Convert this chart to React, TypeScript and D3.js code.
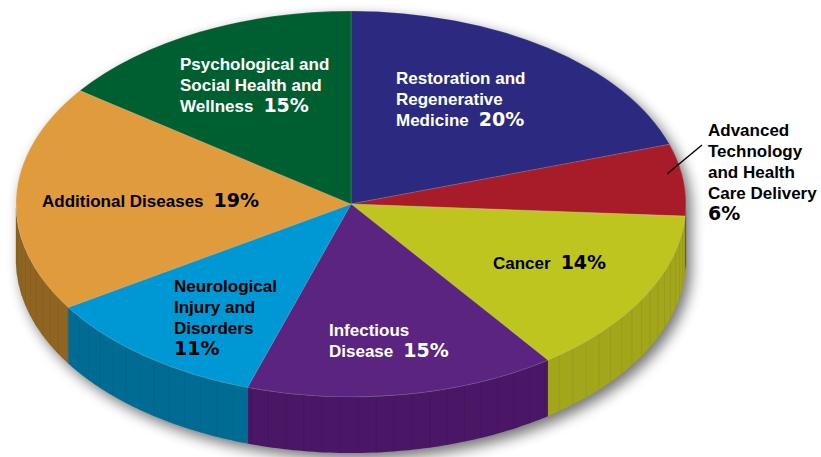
import * as d3 from "d3";

// share of funding by topic, clockwise from 12 o'clock
const CATEGORIES = [
  "Restoration and Regenerative Medicine",
  "Advanced Technology and Health Care Delivery",
  "Cancer",
  "Infectious Disease",
  "Neurological Injury and Disorders",
  "Additional Diseases",
  "Psychological and Social Health and Wellness",
];
const SHARES = [20, 6, 14, 15, 11, 19, 15];
const LABEL_LINES = [
  ["Restoration and", "Regenerative", "Medicine"],
  ["Advanced", "Technology", "and Health", "Care Delivery"],
  ["Cancer"],
  ["Infectious", "Disease"],
  ["Neurological", "Injury and", "Disorders"],
  ["Additional Diseases"],
  ["Psychological and", "Social Health and", "Wellness"],
];

const TOP_COLORS = ["#2b2a80", "#a81c2a", "#bec51f", "#5b2480", "#0098d4", "#e09b3c", "#005f31"];
const SIDE_COLORS = ["#1f1e60", "#7e1520", "#a2a61b", "#4a1666", "#006c93", "#8f6521", "#00461f"];

// label layout: x, first baseline, colour, percent inline or on its own line
const LABEL_POS = [
  { x: 396, y: 84, fill: "#fff", inline: true },
  { x: 708, y: 136, fill: "#000", inline: false },
  { x: 493, y: 269, fill: "#000", inline: true },
  { x: 329, y: 336, fill: "#fff", inline: true },
  { x: 174, y: 292, fill: "#000", inline: false },
  { x: 42, y: 207, fill: "#000", inline: true },
  { x: 180, y: 70, fill: "#fff", inline: true },
];

const W = 821, H = 457;
const CX = 351, CY = 204, RX = 335, RY = 193, DEPTH = 56;
const LH = 21;
const FONT = "'Liberation Sans', Arial, Helvetica, sans-serif";
const PCT_FONT = "'DejaVu Sans', Verdana, sans-serif";

const ex = (a: number) => CX + RX * Math.sin(a);
const ey = (a: number) => CY - RY * Math.cos(a);

export default function App() {
  const pie = d3.pie<number>().sort(null).value(d => d)(SHARES);
  const arc = d3.arc<d3.PieArcDatum<number>>().innerRadius(0).outerRadius(RX);
  const line = d3.line();

  const sidePath = (a0: number, a1: number) => {
    const s = Math.max(a0, Math.PI / 2), e = Math.min(a1, Math.PI * 1.5);
    if (s >= e) return null;
    const n = 60;
    const angs = d3.range(n + 1).map(k => s + ((e - s) * k) / n);
    const top = angs.map(a => [ex(a), ey(a)] as [number, number]);
    const bot = angs.slice().reverse().map(a => [ex(a), ey(a) + DEPTH] as [number, number]);
    return line([...top, ...bot]) + "Z";
  };

  // whole silhouette for the drop shadow
  const silhouette = (() => {
    const angs = d3.range(0, 361, 2).map(d => (d * Math.PI) / 180);
    const pts = angs.map(a => {
      const y = ey(a);
      return [ex(a), Math.cos(a) < 0 ? y + DEPTH : y] as [number, number];
    });
    return line(pts) + "Z";
  })();

  // vertical shading lines on the rim
  const stripes = d3.range(92, 270, 3.1).map(d => (d * Math.PI) / 180);
  const sliceOf = (a: number) => pie.findIndex(p => a >= p.startAngle && a < p.endAngle);

  return (
    <div style={{ position: "absolute", left: 0, top: 0, background: "#fff" }}>
      <svg width={W} height={H} style={{ display: "block" }}>
        <defs>
          <filter id="shadow" x="-10%" y="-10%" width="120%" height="130%">
            <feGaussianBlur stdDeviation="7" />
          </filter>
        </defs>
        <rect width={W} height={H} fill="#fff" />
        <path d={silhouette} fill="#000" opacity={0.55} transform="translate(5,6)" filter="url(#shadow)" />

        {pie.map((p, i) => {
          const d = sidePath(p.startAngle, p.endAngle);
          return d ? <path key={"s" + i} d={d} fill={SIDE_COLORS[i]} /> : null;
        })}
        {stripes.map((a, k) => {
          const i = sliceOf(a);
          return (
            <line key={"st" + k} x1={ex(a)} x2={ex(a)} y1={ey(a)} y2={ey(a) + DEPTH}
              stroke={d3.color(SIDE_COLORS[i])!.darker(0.6).toString()} strokeWidth={0.8} opacity={0.4} />
          );
        })}

        <g transform={`translate(${CX},${CY}) scale(1,${RY / RX})`}>
          {pie.map((p, i) => (
            <path key={"t" + i} d={arc(p) || ""} fill={TOP_COLORS[i]}
              stroke="rgba(255,255,255,0.25)" strokeWidth={0.6} vectorEffect="non-scaling-stroke" />
          ))}
        </g>

        <line x1={667} y1={174} x2={702} y2={145} stroke="#000" strokeWidth={1.4} />

        {LABEL_LINES.map((lines, i) => {
          const pos = LABEL_POS[i];
          const pct = `${SHARES[i]}%`;
          return (
            <text key={"l" + i} x={pos.x} y={pos.y} fill={pos.fill} fontFamily={FONT}
              fontWeight="bold" fontSize={17}>
              {lines.map((t, j) => (
                <tspan key={j} x={pos.x} y={pos.y + j * LH}>
                  {t}
                  {pos.inline && j === lines.length - 1 ? (
                    <tspan dx={10} fontSize={19} fontFamily={PCT_FONT}>{pct}</tspan>
                  ) : null}
                </tspan>
              ))}
              {!pos.inline ? (
                <tspan x={pos.x} y={pos.y + lines.length * LH} fontSize={19} fontFamily={PCT_FONT}>{pct}</tspan>
              ) : null}
            </text>
          );
        })}
      </svg>
    </div>
  );
}
